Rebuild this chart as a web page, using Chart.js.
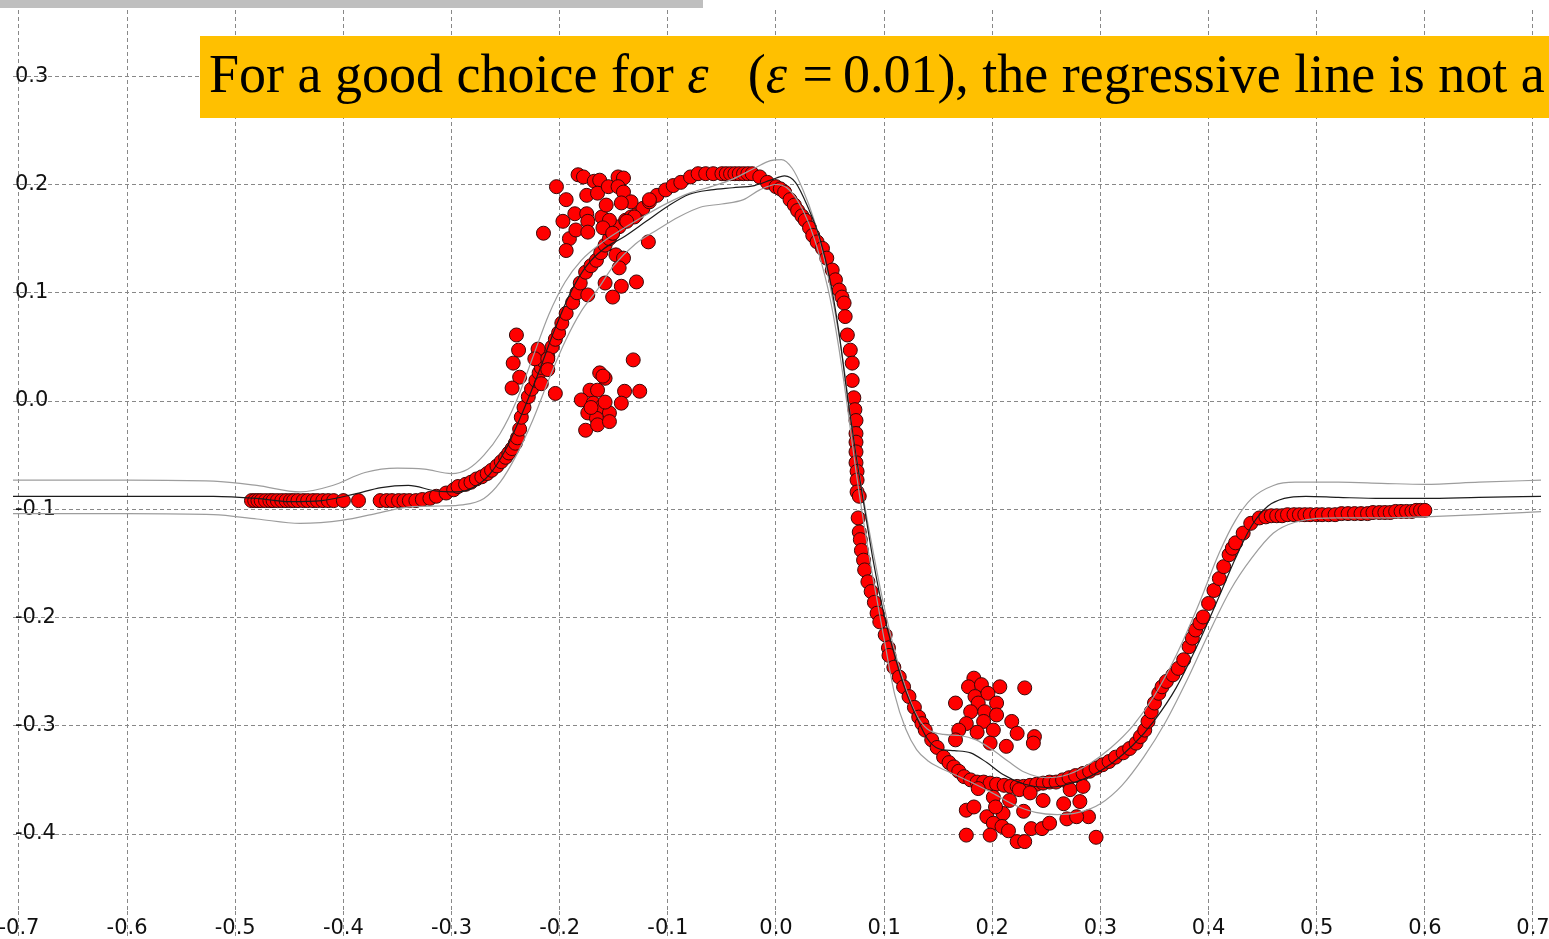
<!DOCTYPE html>
<html>
<head>
<meta charset="utf-8">
<script src="https://cdn.jsdelivr.net/npm/chart.js@4.4.1/dist/chart.umd.min.js"></script>
<style>
  html, body { margin: 0; padding: 0; background: #fff; overflow: hidden; }
  #wrap { position: relative; width: 1549px; height: 939px; }
  #wrap canvas { position: absolute; left: 0; top: 0; }
  #topbar { position: absolute; left: 0; top: 0; width: 703px; height: 8px; background: #bfbfbf; }
  #banner {
    position: absolute; left: 200px; top: 36px; width: 1349px; height: 82px;
    box-sizing: border-box; padding-left: 9px;
    background: #ffc000; color: #000;
    font-family: "Liberation Serif", "Times New Roman", serif; font-size: 54px; line-height: 76px;
    white-space: nowrap; overflow: hidden; z-index: 2;
  }
  #banner .paren { margin-left: 39px; }
  #banner .eq { margin: 0 10px 0 2px; }
</style>
</head>
<body>
<div id="wrap">
  <canvas id="svrChart" width="1549" height="939"></canvas>
  <div id="topbar"></div>
  <div id="banner">For a good choice for <i>ε</i><span class="paren">(</span><i>ε</i> <span class="eq">=</span>0.01), the regressive line is not a</div>
</div>
<script>
  // regression curve and the upper / lower edges of the epsilon tube, [x, y]
  const centerLine = [
    [-0.71,-0.088],[-0.60,-0.088],[-0.52,-0.088],[-0.48,-0.090],[-0.45,-0.093],[-0.42,-0.092],
    [-0.39,-0.086],[-0.365,-0.080],[-0.34,-0.078],[-0.315,-0.083],[-0.295,-0.084],[-0.28,-0.080],
    [-0.265,-0.068],[-0.25,-0.045],[-0.235,-0.012],[-0.22,0.025],[-0.205,0.065],[-0.19,0.100],
    [-0.175,0.125],[-0.16,0.140],[-0.14,0.152],[-0.12,0.166],[-0.10,0.180],[-0.08,0.191],
    [-0.06,0.195],[-0.04,0.197],[-0.02,0.199],[-0.005,0.204],[0.008,0.208],[0.018,0.202],
    [0.03,0.178],[0.04,0.152],[0.05,0.112],[0.058,0.065],[0.066,0.005],[0.074,-0.050],
    [0.082,-0.100],[0.09,-0.148],[0.10,-0.198],[0.11,-0.236],[0.12,-0.268],[0.13,-0.292],
    [0.14,-0.312],[0.15,-0.321],[0.165,-0.323],[0.18,-0.325],[0.195,-0.334],[0.21,-0.345],
    [0.23,-0.354],[0.25,-0.357],[0.27,-0.354],[0.29,-0.347],[0.31,-0.335],[0.33,-0.318],
    [0.35,-0.295],[0.37,-0.265],[0.39,-0.225],[0.41,-0.180],[0.425,-0.145],[0.44,-0.115],
    [0.455,-0.097],[0.47,-0.090],[0.49,-0.088],[0.52,-0.089],[0.56,-0.090],[0.60,-0.090],
    [0.65,-0.089],[0.71,-0.088]
  ];
  const upperLine = [
    [-0.71,-0.073],[-0.60,-0.073],[-0.52,-0.074],[-0.48,-0.078],[-0.44,-0.084],[-0.41,-0.078],
    [-0.38,-0.066],[-0.35,-0.062],[-0.325,-0.063],[-0.30,-0.067],[-0.285,-0.063],[-0.27,-0.050],
    [-0.255,-0.030],[-0.24,0.000],[-0.225,0.040],[-0.21,0.080],[-0.195,0.110],[-0.18,0.130],
    [-0.16,0.147],[-0.14,0.160],[-0.12,0.172],[-0.10,0.183],[-0.08,0.192],[-0.06,0.198],
    [-0.04,0.205],[-0.02,0.215],[-0.005,0.222],[0.005,0.223],[0.015,0.215],[0.025,0.195],
    [0.035,0.168],[0.045,0.130],[0.055,0.080],[0.063,0.030],[0.071,-0.030],[0.08,-0.085],
    [0.09,-0.140],[0.10,-0.190],[0.11,-0.232],[0.12,-0.265],[0.13,-0.290],[0.14,-0.303],
    [0.155,-0.308],[0.17,-0.309],[0.185,-0.313],[0.20,-0.322],[0.215,-0.333],[0.23,-0.343],
    [0.25,-0.348],[0.27,-0.345],[0.29,-0.335],[0.31,-0.320],[0.33,-0.300],[0.35,-0.272],
    [0.37,-0.235],[0.39,-0.190],[0.41,-0.140],[0.425,-0.110],[0.44,-0.090],[0.46,-0.078],
    [0.48,-0.075],[0.52,-0.075],[0.56,-0.076],[0.60,-0.077],[0.65,-0.075],[0.71,-0.073]
  ];
  const lowerLine = [
    [-0.71,-0.104],[-0.60,-0.104],[-0.52,-0.105],[-0.48,-0.109],[-0.44,-0.113],[-0.40,-0.110],
    [-0.37,-0.104],[-0.34,-0.098],[-0.31,-0.097],[-0.29,-0.096],[-0.27,-0.090],[-0.255,-0.075],
    [-0.24,-0.050],[-0.225,-0.018],[-0.21,0.020],[-0.195,0.055],[-0.18,0.083],[-0.165,0.103],
    [-0.15,0.125],[-0.13,0.145],[-0.11,0.158],[-0.09,0.170],[-0.07,0.179],[-0.05,0.182],
    [-0.03,0.186],[-0.015,0.195],[0.0,0.200],[0.01,0.197],[0.02,0.185],[0.03,0.165],
    [0.04,0.135],[0.05,0.095],[0.058,0.050],[0.066,-0.005],[0.074,-0.065],[0.082,-0.118],
    [0.09,-0.165],[0.10,-0.220],[0.11,-0.272],[0.12,-0.303],[0.13,-0.322],[0.14,-0.332],
    [0.15,-0.338],[0.165,-0.345],[0.18,-0.352],[0.20,-0.362],[0.22,-0.373],[0.24,-0.380],
    [0.26,-0.382],[0.28,-0.380],[0.30,-0.372],[0.32,-0.355],[0.34,-0.329],[0.36,-0.297],
    [0.38,-0.258],[0.40,-0.215],[0.42,-0.175],[0.44,-0.145],[0.46,-0.122],[0.48,-0.112],
    [0.52,-0.108],[0.56,-0.108],[0.60,-0.107],[0.65,-0.105],[0.71,-0.102]
  ];

  // training samples, [x, y]
  const dotsRise = [
    [-0.485,-0.092],[-0.482,-0.092],[-0.479,-0.092],[-0.476,-0.092],[-0.472,-0.092],[-0.468,-0.092],
    [-0.465,-0.092],[-0.461,-0.092],[-0.457,-0.092],[-0.453,-0.092],[-0.449,-0.092],[-0.446,-0.092],
    [-0.442,-0.092],[-0.437,-0.092],[-0.433,-0.092],[-0.428,-0.092],[-0.424,-0.092],[-0.419,-0.092],
    [-0.414,-0.092],[-0.409,-0.092],[-0.400,-0.092],[-0.386,-0.092],[-0.366,-0.092],[-0.360,-0.092],
    [-0.355,-0.092],[-0.349,-0.092],[-0.344,-0.092],[-0.339,-0.092],[-0.333,-0.092],[-0.327,-0.091],
    [-0.320,-0.090],[-0.314,-0.088],[-0.305,-0.085],[-0.298,-0.082],[-0.294,-0.079],[-0.287,-0.077],
    [-0.282,-0.075],[-0.277,-0.072],[-0.272,-0.070],[-0.267,-0.067],[-0.263,-0.064],[-0.258,-0.060],
    [-0.254,-0.056],[-0.250,-0.052],[-0.247,-0.048],[-0.244,-0.044],[-0.241,-0.039],[-0.239,-0.034],
    [-0.237,-0.026],[-0.2355,-0.015],[-0.233,-0.006],[-0.229,0.004],[-0.226,0.011],[-0.222,0.019],
    [-0.219,0.026],[-0.217,0.031],[-0.214,0.036],[-0.211,0.041],[-0.207,0.050],[-0.204,0.057],
    [-0.201,0.063],[-0.198,0.072],[-0.194,0.081],[-0.188,0.091],[-0.184,0.100],[-0.181,0.109],
    [-0.176,0.119],[-0.171,0.125],[-0.166,0.130],[-0.162,0.137],[-0.158,0.144],[-0.154,0.150],
    [-0.151,0.155],[-0.145,0.161],[-0.139,0.167],[-0.134,0.170],[-0.129,0.172],[-0.123,0.178],
    [-0.117,0.184],[-0.110,0.190],[-0.102,0.195],[-0.095,0.199],[-0.088,0.202],[-0.079,0.207],
    [-0.072,0.210],[-0.065,0.210],[-0.058,0.210],[-0.050,0.210],[-0.046,0.210],[-0.042,0.210],
    [-0.038,0.210],[-0.034,0.210],[-0.030,0.210],[-0.026,0.210],[-0.022,0.210],[-0.015,0.207],
    [-0.008,0.202]
  ];
  const dotsFall = [
    [0.000,0.198],[0.004,0.196],[0.008,0.193],[0.013,0.186],[0.017,0.181],[0.020,0.176],
    [0.024,0.171],[0.027,0.167],[0.031,0.160],[0.034,0.153],[0.038,0.147],[0.043,0.141],
    [0.047,0.132],[0.052,0.121],[0.055,0.112],[0.0585,0.1025],[0.061,0.096],[0.063,0.0905],
    [0.064,0.078],[0.066,0.061],[0.0687,0.047],[0.0705,0.035],[0.0705,0.019],[0.072,0.003],
    [0.073,-0.008],[0.074,-0.018],[0.074,-0.030],[0.074,-0.038],[0.074,-0.047],[0.074,-0.057],
    [0.075,-0.065],[0.075,-0.073],[0.075,-0.084],[0.077,-0.088],[0.076,-0.108],[0.077,-0.121],
    [0.078,-0.128],[0.079,-0.138],[0.081,-0.147],[0.082,-0.156],[0.085,-0.167],[0.088,-0.176],
    [0.091,-0.186],[0.0935,-0.196],[0.096,-0.204],[0.101,-0.216],[0.104,-0.228],[0.1045,-0.235],
    [0.109,-0.246],[0.114,-0.255],[0.118,-0.264],[0.123,-0.273],[0.128,-0.283],[0.132,-0.292],
    [0.135,-0.298],[0.138,-0.304],[0.144,-0.313],[0.149,-0.320],[0.155,-0.329],[0.160,-0.334],
    [0.1645,-0.338],[0.169,-0.342],[0.174,-0.347],[0.180,-0.350],[0.186,-0.352],[0.192,-0.352],
    [0.198,-0.353],[0.204,-0.354],[0.211,-0.355],[0.217,-0.356],[0.223,-0.356],[0.229,-0.356],
    [0.235,-0.355],[0.241,-0.354],[0.247,-0.353],[0.253,-0.352],[0.259,-0.352],[0.265,-0.350],
    [0.271,-0.348],[0.277,-0.346],[0.284,-0.344],[0.290,-0.342],[0.296,-0.339],[0.302,-0.336],
    [0.308,-0.333],[0.314,-0.329],[0.321,-0.325],[0.327,-0.321],[0.333,-0.316],[0.337,-0.310],
    [0.341,-0.304],[0.344,-0.296],[0.347,-0.287],[0.350,-0.279],[0.354,-0.270],[0.357,-0.264],
    [0.361,-0.259],[0.367,-0.253],[0.372,-0.247],[0.377,-0.239],[0.382,-0.227],[0.385,-0.219],
    [0.388,-0.2115],[0.392,-0.205],[0.395,-0.1995],[0.400,-0.187],[0.405,-0.175],[0.410,-0.164],
    [0.414,-0.153],[0.419,-0.142],[0.422,-0.136],[0.425,-0.131],[0.432,-0.122],[0.439,-0.113],
    [0.447,-0.108]
  ];
  const dotsTail = [
    [0.453,-0.107],[0.458,-0.106],[0.463,-0.106],[0.468,-0.106],[0.473,-0.105],[0.479,-0.105],
    [0.484,-0.105],[0.489,-0.105],[0.494,-0.105],[0.500,-0.105],[0.505,-0.105],[0.511,-0.105],
    [0.517,-0.105],[0.523,-0.104],[0.529,-0.104],[0.535,-0.104],[0.541,-0.104],[0.547,-0.104],
    [0.552,-0.103],[0.558,-0.103],[0.563,-0.103],[0.568,-0.103],[0.573,-0.102],[0.578,-0.102],
    [0.583,-0.102],[0.588,-0.102],[0.592,-0.101],[0.596,-0.101],[0.600,-0.101]
  ];
  // outlier groups
  const outliersTop = [
    [-0.183,0.209],[-0.178,0.207],[-0.168,0.203],[-0.163,0.204],[-0.146,0.207],[-0.141,0.206],
    [-0.203,0.198],[-0.194,0.186],[-0.175,0.190],[-0.165,0.192],[-0.155,0.198],[-0.146,0.198],
    [-0.141,0.193],[-0.134,0.184],[-0.186,0.173],[-0.175,0.173],[-0.161,0.170],[-0.157,0.181],
    [-0.143,0.183],[-0.197,0.166],[-0.174,0.166],[-0.154,0.167],[-0.215,0.155],[-0.191,0.150],
    [-0.185,0.158],[-0.174,0.156],[-0.160,0.160],[-0.194,0.139],[-0.151,0.155],[-0.118,0.147],
    [-0.148,0.135],[-0.141,0.132],[-0.145,0.123],[-0.158,0.109],[-0.143,0.106],[-0.129,0.110],
    [-0.151,0.096],[-0.174,0.098],[-0.131,0.170],[-0.138,0.166],[-0.117,0.186]
  ];
  const outliersMidLeft = [
    [-0.240,0.061],[-0.238,0.047],[-0.243,0.035],[-0.237,0.022],[-0.244,0.012],[-0.220,0.048],
    [-0.223,0.039],[-0.211,0.039],[-0.211,0.029],[-0.217,0.016],[-0.204,0.007]
  ];
  const outliersMid = [
    [-0.163,0.026],[-0.158,0.021],[-0.172,0.010],[-0.165,0.010],[-0.180,0.001],[-0.169,-0.002],
    [-0.161,-0.005],[-0.174,-0.011],[-0.154,-0.011],[-0.166,-0.016],[-0.176,-0.027],[-0.165,-0.022],
    [-0.154,-0.019],[-0.140,0.009],[-0.126,0.009],[-0.132,0.038],[-0.143,-0.002],[-0.160,0.023],
    [-0.171,-0.006],[-0.158,-0.001]
  ];
  const outliersTroughHigh = [
    [0.183,-0.256],[0.178,-0.264],[0.190,-0.262],[0.207,-0.264],[0.230,-0.265],[0.166,-0.279],
    [0.184,-0.273],[0.196,-0.270],[0.204,-0.279],[0.187,-0.279],[0.180,-0.287],[0.193,-0.287],
    [0.204,-0.290],[0.176,-0.298],[0.192,-0.296],[0.218,-0.296],[0.169,-0.304],[0.186,-0.306],
    [0.201,-0.304],[0.223,-0.307],[0.239,-0.310],[0.166,-0.313],[0.198,-0.316],[0.213,-0.319],
    [0.238,-0.316]
  ];
  const outliersTroughLow = [
    [0.176,-0.378],[0.183,-0.375],[0.201,-0.366],[0.195,-0.384],[0.210,-0.381],[0.203,-0.375],
    [0.201,-0.390],[0.209,-0.393],[0.176,-0.401],[0.198,-0.401],[0.215,-0.397],[0.223,-0.407],
    [0.230,-0.407],[0.236,-0.395],[0.246,-0.395],[0.253,-0.390],[0.229,-0.379],[0.216,-0.369],
    [0.247,-0.369],[0.266,-0.372],[0.269,-0.386],[0.281,-0.370],[0.289,-0.384],[0.278,-0.384],
    [0.296,-0.403],[0.272,-0.359],[0.284,-0.356],[0.187,-0.358],[0.225,-0.359],[0.235,-0.362]
  ];

  const toXY = arr => arr.map(p => ({ x: p[0], y: p[1] }));
  const samples = [].concat(dotsRise, dotsFall, dotsTail, outliersTop, outliersMidLeft,
    outliersMid, outliersTroughHigh, outliersTroughLow);

  const gridColor = "#888888";
  const tickFont = { family: "DejaVu Sans", size: 21 };
  const oneDecimal = v => Number(v).toFixed(1);

  new Chart(document.getElementById("svrChart"), {
    type: "scatter",
    data: {
      datasets: [
        {
          data: toXY(centerLine),
          showLine: true,
          borderColor: "#1c1c1c",
          borderWidth: 1.2,
          pointRadius: 0,
          cubicInterpolationMode: "monotone",
          order: 0
        },
        {
          data: toXY(upperLine),
          showLine: true,
          borderColor: "#9d9d9d",
          borderWidth: 1.2,
          pointRadius: 0,
          cubicInterpolationMode: "monotone",
          order: 0
        },
        {
          data: toXY(lowerLine),
          showLine: true,
          borderColor: "#9d9d9d",
          borderWidth: 1.2,
          pointRadius: 0,
          cubicInterpolationMode: "monotone",
          order: 0
        },
        {
          data: toXY(samples),
          backgroundColor: "#ff0000",
          borderColor: "#3a0808",
          borderWidth: 1,
          pointRadius: 7,
          order: 1
        }
      ]
    },
    options: {
      responsive: false,
      animation: false,
      events: [],
      layout: { padding: { left: 13, right: 3, top: 10, bottom: 0 } },
      plugins: {
        legend: { display: false },
        tooltip: { enabled: false }
      },
      scales: {
        x: {
          type: "linear",
          min: -0.7055,
          max: 0.7074,
          grid: {
            color: gridColor,
            lineWidth: 1,
            tickLength: 29,
            tickColor: gridColor,
            tickBorderDash: [4, 3]
          },
          border: { display: false, dash: [4, 3] },
          ticks: {
            stepSize: 0.1,
            includeBounds: false,
            autoSkip: false,
            maxRotation: 0,
            padding: -24,
            color: "#111",
            font: tickFont,
            callback: oneDecimal
          },
          afterFit: s => { s.height = 28; s.paddingLeft = 0; s.paddingRight = 0; }
        },
        y: {
          min: -0.4711,
          max: 0.3612,
          grid: { color: gridColor, lineWidth: 1, drawTicks: false },
          border: { display: false, dash: [4, 3] },
          ticks: {
            stepSize: 0.1,
            includeBounds: false,
            mirror: true,
            padding: 2,
            color: "#111",
            font: tickFont,
            callback: oneDecimal
          },
          afterFit: s => { s.width = 0; s.paddingTop = 0; s.paddingBottom = 0; }
        }
      }
    }
  });
</script>
</body>
</html>
